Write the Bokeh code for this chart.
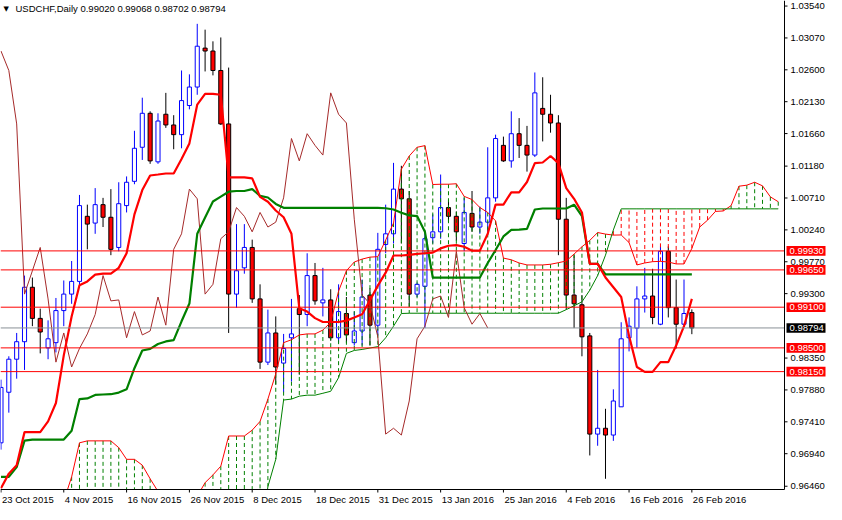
from bokeh.plotting import figure
from bokeh.models import Range1d, Label, ColumnDataSource
from bokeh.core.properties import value
from bokeh.embed import file_html
from bokeh.resources import INLINE

# ---------------- data ----------------
title_text = "USDCHF,Daily  0.99020 0.99068 0.98702 0.98794"

date_labels = ["23 Oct 2015", "4 Nov 2015", "16 Nov 2015", "26 Nov 2015", "8 Dec 2015",
               "18 Dec 2015", "31 Dec 2015", "13 Jan 2016", "25 Jan 2016", "4 Feb 2016",
               "16 Feb 2016", "26 Feb 2016"]
date_bars = [0, 8, 16, 24, 32, 40, 48, 56, 64, 72, 80, 88]

price_ticks = [1.03540, 1.03070, 1.02600, 1.02130, 1.01660, 1.01180, 1.00710, 1.00240,
               0.99770, 0.99300, 0.98350, 0.97880, 0.97410, 0.96940, 0.96460]

opens = [0.97100, 0.97846, 0.98333, 0.98591, 0.99394, 0.98935, 0.98500, 0.98577, 0.99050, 0.99293,
         0.99480, 1.00440, 1.00340, 1.00612, 1.00426, 0.99981, 1.00598, 1.00956, 1.01458, 1.01959,
         1.01243, 1.01945, 1.01787, 1.01644, 1.02074, 1.02346, 1.02920, 1.02877, 1.02590, 1.01802,
         0.99293, 0.99680, 0.99981, 0.99222, 0.98290, 0.98720, 0.98276, 0.98649, 0.99078, 0.98992,
         0.99566, 0.99164, 0.99207, 0.98649, 0.99007, 0.98577, 0.98749, 0.99279, 0.98835, 1.00024,
         1.00182, 1.00841, 1.00698, 0.99293, 0.99408, 1.00125, 1.00211, 1.00569, 1.00440, 1.00039,
         1.00483, 1.00282, 1.00354, 1.00712, 1.01486, 1.01257, 1.01658, 1.01486, 1.01343, 1.02031,
         1.01945, 1.01816, 1.00397, 0.99279, 0.99136, 0.98677, 0.97229, 0.97315, 0.97215, 0.97631,
         0.98649, 0.98792, 0.99222, 0.99265, 0.98849, 0.99924, 0.99093, 0.98849, 0.99020]
highs = [0.98032, 0.98376, 0.98720, 0.99566, 0.99537, 0.99078, 0.98906, 0.99236, 0.99494, 0.99781,
         1.00755, 1.00612, 1.00856, 1.00712, 1.00841, 1.00942, 1.01028, 1.01701, 1.02189, 1.01988,
         1.01959, 1.02260, 1.01931, 1.02590, 1.02533, 1.03278, 1.03192, 1.03020, 1.03077, 1.02633,
         1.00325, 1.00325, 1.00096, 0.99437, 0.99064, 0.98964, 0.98706, 0.99222, 0.99279, 0.99895,
         0.99752, 0.99680, 0.99365, 0.99437, 0.99250, 0.99035, 0.99508, 0.99379, 1.00196, 1.00612,
         1.01228, 1.01185, 1.00813, 0.99465, 1.00182, 1.00469, 1.01056, 1.00684, 1.00512, 1.00712,
         1.00813, 1.00583, 1.01458, 1.01644, 1.01615, 1.01988, 1.01888, 1.01773, 1.02561, 1.02490,
         1.02232, 1.01931, 1.00712, 0.99867, 0.99279, 0.98720, 0.98175, 0.97602, 0.97889, 0.98878,
         0.98949, 0.99408, 0.99680, 0.99666, 0.99996, 0.99996, 0.99508, 0.99508, 0.99068]
lows = [0.97000, 0.97545, 0.98046, 0.98175, 0.98820, 0.98419, 0.98333, 0.98433, 0.98820, 0.99150,
        0.99394, 0.99953, 1.00182, 1.00282, 0.99867, 0.99924, 1.00497, 1.00913, 1.01271, 1.01214,
        1.01214, 1.01744, 1.01429, 1.01443, 1.02017, 1.02232, 1.02576, 1.02518, 1.01787, 0.98720,
        0.99093, 0.99594, 0.99164, 0.98190, 0.98247, 0.97960, 0.97846, 0.98003, 0.98104, 0.98820,
        0.99136, 0.98964, 0.98605, 0.98577, 0.98577, 0.98534, 0.98534, 0.98534, 0.98677, 0.99895,
        1.00039, 1.00039, 0.99107, 0.99250, 0.98792, 1.00039, 1.00110, 1.00354, 1.00082, 0.99924,
        1.00211, 1.00182, 1.00182, 1.00655, 1.01243, 1.01157, 1.01300, 1.01099, 1.01314, 1.01544,
        1.01673, 0.99867, 0.99064, 0.98792, 0.98376, 0.96914, 0.97057, 0.96570, 0.97129, 0.97631,
        0.98448, 0.98505, 0.99021, 0.98849, 0.98835, 0.98949, 0.98491, 0.98835, 0.98702]
closes = [0.97917, 0.98333, 0.98591, 0.99394, 0.98935, 0.98734, 0.98634, 0.99050, 0.99293, 0.99480,
          1.00598, 1.00325, 1.00612, 1.00426, 0.99953, 1.00626, 1.00942, 1.01443, 1.01959, 1.01257,
          1.01845, 1.01787, 1.01644, 1.02146, 1.02346, 1.02948, 1.02877, 1.02590, 1.01802, 0.99293,
          0.99637, 0.99981, 0.99222, 0.98290, 0.98720, 0.98218, 0.98491, 0.98706, 0.98992, 0.99566,
          0.99193, 0.99207, 0.98649, 0.99035, 0.98691, 0.98749, 0.99250, 0.98835, 0.99953, 1.00182,
          1.00841, 1.00698, 0.99293, 0.99437, 1.00110, 1.00211, 1.00569, 1.00440, 1.00211, 1.00497,
          1.00282, 1.00354, 1.00712, 1.01587, 1.01257, 1.01658, 1.01486, 1.01343, 1.02260, 1.01945,
          1.01816, 1.00397, 0.99279, 0.99150, 0.98663, 0.97229, 0.97315, 0.97215, 0.97717, 0.98634,
          0.98820, 0.99222, 0.99265, 0.98949, 0.99924, 0.99093, 0.98849, 0.99007, 0.98794]

tenkan = [0.96431, 0.96646, 0.96771, 0.97258, 0.97258, 0.97258, 0.97416, 0.97688, 0.98390, 0.98964,
          0.99422, 0.99480, 0.99580, 0.99594, 0.99594, 0.99680, 0.99895, 1.00469, 1.00827, 1.01042,
          1.01056, 1.01071, 1.01071, 1.01286, 1.01515, 1.02088, 1.02246, 1.02246, 1.02232, 1.01013,
          1.01013, 1.01013, 1.00999, 1.00727, 1.00655, 1.00526, 1.00426, 1.00182, 0.99083, 0.99035,
          0.98939, 0.98882, 0.98882, 0.98882, 0.98902, 0.98949, 0.98997, 0.99203, 0.99418, 0.99609,
          0.99862, 0.99862, 0.99871, 0.99885, 0.99895, 0.99905, 0.99967, 1.00006, 1.00014, 0.99991,
          0.99934, 0.99934, 1.00182, 1.00612, 1.00612, 1.00794, 1.00794, 1.00946, 1.01224, 1.01233,
          1.01329, 1.01224, 1.00856, 1.00698, 1.00497, 0.99738, 0.99738, 0.99537, 0.99394, 0.99250,
          0.98677, 0.98218, 0.98147, 0.98147, 0.98290, 0.98290, 0.98534, 0.98820, 0.99222]
kijun = [0.96599, 0.96599, 0.96742, 0.97133, 0.97148, 0.97148, 0.97148, 0.97148, 0.97148, 0.97277,
         0.97745, 0.97755, 0.97807, 0.97813, 0.97817, 0.97841, 0.97889, 0.98200, 0.98462, 0.98486,
         0.98558, 0.98595, 0.98615, 0.98892, 0.99154, 1.00182, 1.00421, 1.00659, 1.00731, 1.00803,
         1.00813, 1.00813, 1.00841, 1.00741, 1.00717, 1.00622, 1.00565, 1.00565, 1.00565, 1.00565,
         1.00565, 1.00565, 1.00565, 1.00565, 1.00565, 1.00565, 1.00565, 1.00565, 1.00565, 1.00559,
         1.00540, 1.00493, 1.00454, 1.00444, 1.00211, 0.99537, 0.99537, 0.99537, 0.99537, 0.99537,
         0.99537, 0.99537, 0.99752, 0.99943, 1.00143, 1.00239, 1.00244, 1.00254, 1.00540, 1.00555,
         1.00555, 1.00555, 1.00555, 1.00612, 1.00444, 0.99742, 0.99738, 0.99584, 0.99584, 0.99584,
         0.99584, 0.99584, 0.99584, 0.99584, 0.99584, 0.99584, 0.99584, 0.99584, 0.99584]

# Senkou spans, already displaced 26 bars forward (bars 0..99)
span_a = [0.95882, 0.95882, 0.95882, 0.95882, 0.95882, 0.95882, 0.95882, 0.95882, 0.96240, 0.96599,
          0.97100, 0.97129, 0.97129, 0.97129, 0.97129, 0.97029, 0.96857, 0.96857, 0.96771, 0.96570,
          0.96384, 0.96025, 0.95882, 0.95882, 0.96025, 0.96312, 0.96513, 0.96627, 0.96756, 0.97201,
          0.97201, 0.97201, 0.97287, 0.97416, 0.97745, 0.98118, 0.98577, 0.98620, 0.98691, 0.98706,
          0.98706, 0.98763, 0.98878, 0.99336, 0.99637, 0.99766, 0.99809, 0.99838, 0.99845, 1.00089,
          1.00340, 1.01135, 1.01329, 1.01458, 1.01482, 1.00909, 1.00913, 1.00913, 1.00920, 1.00734,
          1.00687, 1.00569, 1.00497, 1.00373, 0.99824, 0.99799, 0.99752, 0.99723, 0.99723, 0.99723,
          0.99733, 0.99756, 0.99781, 0.99884, 0.99991, 1.00085, 1.00201, 1.00178, 1.00163, 1.00165,
          1.00053, 0.99723, 0.99752, 0.99771, 0.99776, 0.99766, 0.99738, 0.99738, 0.99967, 1.00282,
          1.00383, 1.00512, 1.00519, 1.00598, 1.00884, 1.00899, 1.00942, 1.00889, 1.00727, 1.00655]
span_b = [0.95595, 0.95595, 0.95595, 0.95595, 0.95595, 0.95595, 0.95595, 0.95595, 0.95595, 0.95595,
          0.95595, 0.95595, 0.95595, 0.95595, 0.95595, 0.95595, 0.95595, 0.95595, 0.95595, 0.95595,
          0.95595, 0.95595, 0.95595, 0.95595, 0.95595, 0.95595, 0.95595, 0.95595, 0.95595, 0.95595,
          0.95595, 0.95595, 0.95595, 0.95595, 0.96455, 0.96857, 0.97731, 0.97745, 0.97788, 0.97803,
          0.97803, 0.97831, 0.97860, 0.98061, 0.98419, 0.98462, 0.98477, 0.98498, 0.98519, 0.98649,
          0.98820, 0.99007, 0.99011, 0.99011, 0.99011, 0.99011, 0.99011, 0.99011, 0.99011, 0.99011,
          0.99011, 0.99011, 0.99011, 0.99011, 0.99011, 0.99011, 0.99011, 0.99011, 0.99011, 0.99011,
          0.99011, 0.99011, 0.99064, 0.99121, 0.99179, 0.99351, 0.99566, 0.99867, 1.00239, 1.00550,
          1.00550, 1.00550, 1.00550, 1.00550, 1.00550, 1.00550, 1.00550, 1.00550, 1.00550, 1.00550,
          1.00550, 1.00550, 1.00550, 1.00550, 1.00550, 1.00550, 1.00550, 1.00550, 1.00550, 1.00550]

chikou_shift = 26
level_prices = [0.99930, 0.99650, 0.99100, 0.98500, 0.98150]
last_price = 0.98794

# ---------------- geometry / styles ----------------
FONT = "Liberation Sans"
FS = "9.5px"
RED = "#FF0000"
GREEN = "#008000"
BLUE = "#0000FF"
BROWN = "#A52A2A"
GRAY = "#8a9097"

W, H = 826, 504            # canvas
CW, CH = 784, 489          # price-chart area (left/top part of the canvas)
X0, X1 = -0.06, 99.8       # bar range of the chart area
Y0, Y1 = 0.96412, 1.03622  # price range of the chart area
bx = (X1 - X0) / CW        # bars per pixel
by = (Y1 - Y0) / CH        # price per pixel
XE = X0 + W * bx           # right edge of canvas (bars)
YB = Y1 - H * by           # bottom edge of canvas (price)

p = figure(width=W, height=H, output_backend="svg", toolbar_location=None,
           x_range=Range1d(X0, XE), y_range=Range1d(YB, Y1),
           x_axis_location=None, y_axis_location=None, min_border=0,
           outline_line_color=None, background_fill_color="white", border_fill_color="white")
p.grid.visible = False

# ---------------- candles ----------------
n = len(closes)
idx = list(range(n))
up = [c >= o for o, c in zip(opens, closes)]
csrc = ColumnDataSource(dict(
    x=idx, high=highs, low=lows,
    top=[max(o, c) for o, c in zip(opens, closes)],
    bottom=[min(o, c) for o, c in zip(opens, closes)],
    wick=[BLUE if u else "black" for u in up],
    fill=["white" if u else RED for u in up],
))
p.segment(x0="x", y0="low", x1="x", y1="high", source=csrc, line_color="wick", line_width=1)
p.vbar(x="x", width=0.52, top="top", bottom="bottom", source=csrc,
       fill_color="fill", line_color="wick", line_width=1)

# ---------------- Ichimoku ----------------
m = len(span_a)
cidx = list(range(m))
ksrc = ColumnDataSource(dict(
    x=cidx, a=span_a, b=span_b,
    col=[GREEN if a > b else RED for a, b in zip(span_a, span_b)],
))
p.segment(x0="x", y0="a", x1="x", y1="b", source=ksrc, line_color="col",
          line_width=1, line_dash="4 3")
p.line(cidx, span_a, line_color=RED, line_width=1)
p.line(cidx, span_b, line_color=GREEN, line_width=1)

p.line(idx[:n - chikou_shift], closes[chikou_shift:], line_color=BROWN, line_width=1)
p.line(idx, kijun, line_color=GREEN, line_width=2.2)
p.line(idx, tenkan, line_color=RED, line_width=2.2)

# ---------------- horizontal levels ----------------
nl = len(level_prices)
p.segment(x0=[X0] * nl, x1=[X1] * nl, y0=level_prices, y1=level_prices,
          line_color=RED, line_width=1)
p.segment(x0=[X0], x1=[X1], y0=[last_price], y1=[last_price], line_color=GRAY, line_width=1)

# white margins outside the price area (scale strips)
p.quad(left=[X0 - 1, X1], right=[XE + 1, XE + 1], bottom=[YB - 0.01, YB - 0.01],
       top=[Y0, Y1 + 0.01], fill_color="white", line_color=None)

# ---------------- axes (MT4 style) ----------------
# right price scale
p.segment(x0=[X1], x1=[X1], y0=[Y0], y1=[Y1], line_color="black", line_width=1)
nt = len(price_ticks)
p.segment(x0=[X1] * nt, x1=[X1 + 3 * bx] * nt, y0=price_ticks, y1=price_ticks,
          line_color="black", line_width=1)
p.text(x=[X1 + 6 * bx] * nt, y=price_ticks, text=[f"{t:.5f}" for t in price_ticks],
       text_font=value(FONT), text_font_size=value(FS), text_color="black",
       text_baseline="middle", text_align="left")

# bottom time scale
p.segment(x0=[X0], x1=[X1], y0=[Y0], y1=[Y0], line_color="black", line_width=1)
nd = len(date_bars)
p.segment(x0=date_bars, x1=date_bars, y0=[Y0] * nd, y1=[Y0 - 3 * by] * nd,
          line_color="black", line_width=1)
p.text(x=[b + 1 * bx for b in date_bars], y=[Y0 - 10 * by] * nd, text=date_labels,
       text_font=value(FONT), text_font_size=value(FS), text_color="black",
       text_baseline="middle", text_align="left")

# price boxes on the scale
box_prices = level_prices + [last_price]
box_colors = [RED] * nl + ["black"]
p.quad(left=[X1 + 2 * bx] * len(box_prices), right=[X1 + 41 * bx] * len(box_prices),
       bottom=[v - 4.8 * by for v in box_prices], top=[v + 4.8 * by for v in box_prices],
       fill_color=box_colors, line_color=None)
p.text(x=[X1 + 5 * bx] * len(box_prices), y=box_prices,
       text=[f"{v:.5f}" for v in box_prices],
       text_font=value(FONT), text_font_size=value(FS), text_color="white",
       text_baseline="middle", text_align="left")

# chart title
p.add_layout(Label(x=3, y=H - 8, x_units="screen", y_units="screen", text="\u25bc",
                   text_font="DejaVu Sans", text_font_size="7px", text_color="black",
                   text_baseline="middle", text_align="left"))
p.add_layout(Label(x=15, y=H - 8, x_units="screen", y_units="screen", text=title_text,
                   text_font=FONT, text_font_size=FS, text_color="black",
                   text_baseline="middle", text_align="left"))

open("out.html", "w").write(file_html(p, INLINE))
